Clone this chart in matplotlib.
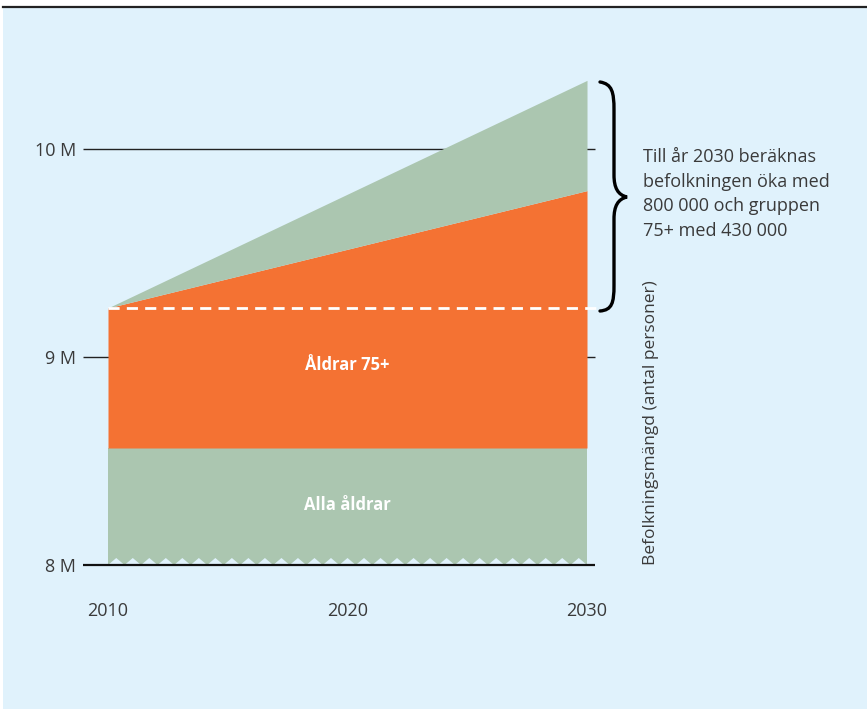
import matplotlib
matplotlib.use("Agg")
import matplotlib.pyplot as plt
from matplotlib.path import Path
from matplotlib.patches import PathPatch, Rectangle
import numpy as np

plt.rcParams['font.family'] = ['Open Sans', 'DejaVu Sans']

# population in millions
years = [2010, 2030]
all_ages = [8.5625, 8.5625]
aged_75 = [9.236, 9.80]
total = [9.236, 10.33]
y_ticks = [8, 9, 10]
y_labels = ['8 M', '9 M', '10 M']
x_ticks = [2010, 2020, 2030]

bg = '#E0F2FC'
green = '#ABC6B0'
orange = '#F47233'
txt = '#3a3a3a'

W, H = 867, 709
fig = plt.figure(figsize=(W / 100, H / 100), dpi=100)
fig.patch.set_facecolor('white')

def fx(px):
    return px / W

def fy(py):
    return 1 - py / H

# panel background and top rule
fig.patches.append(Rectangle((fx(3), 0), 1, fy(7), transform=fig.transFigure,
                             facecolor=bg, edgecolor='none', zorder=-5))
fig.add_artist(plt.Line2D([fx(3), 1], [fy(6.5), fy(6.5)], transform=fig.transFigure,
                          color='#222222', lw=1.6))

# axes from px 83..597 horizontally, 60..565 vertically
ppy = 479 / 20.0   # pixels per year
ppm = 208.0        # pixels per million
ax = fig.add_axes([fx(83), fy(565), fx(597 - 83), (565 - 60) / H])
ax.set_facecolor('none')
ax.set_xlim(2010 - 25 / ppy, 2030 + 10 / ppy)
ax.set_ylim(8, 10 + 89 / ppm)
for s in ax.spines.values():
    s.set_visible(False)

xmin = ax.get_xlim()[0]
xend = 2030 + 8 / ppy
ax.hlines([9, 10], xmin, xend, color='#222222', lw=1.0, zorder=1)

ax.fill_between(years, 8, all_ages, color=green, lw=0, zorder=2)
ax.fill_between(years, all_ages, aged_75, color=orange, lw=0, zorder=2)
ax.fill_between(years, aged_75, total, color=green, lw=0, zorder=2)

# saw-tooth cut along the bottom edge
n = 29
edges = np.linspace(years[0], years[1], n + 1)
h = 7 / ppm
for a, b in zip(edges[:-1], edges[1:]):
    ax.fill([a, (a + b) / 2, b], [8, 8 + h, 8], color=bg, lw=0, zorder=3)

ax.hlines(8, xmin, xend, color='#111111', lw=1.6, zorder=4, clip_on=False)

ax.plot([2010, 2030 + 10 / ppy], [aged_75[0], aged_75[0]], color='white', lw=2,
        dashes=(4, 2.6), zorder=4, clip_on=False)

ax.text(2020, 8.96, 'Åldrar 75+', color='white', fontsize=12, fontweight='bold',
        ha='center', va='center', zorder=5)
ax.text(2020, 8.29, 'Alla åldrar', color='white', fontsize=12, fontweight='bold',
        ha='center', va='center', zorder=5)

ax.set_yticks(y_ticks)
ax.set_yticklabels(y_labels)
ax.set_xticks(x_ticks)
ax.set_xticklabels([str(x) for x in x_ticks])
ax.tick_params(axis='y', length=0, pad=5, labelsize=13, labelcolor=txt)
ax.tick_params(axis='x', length=0, pad=27, labelsize=13, labelcolor=txt)

# curly brace beside the growth
pts = [(600, 82), (612, 84), (614, 92), (614, 110),
       (614, 175),
       (614, 188), (618, 195), (627, 197),
       (618, 199), (614, 206), (614, 219),
       (614, 285),
       (614, 303), (612, 310), (600, 311)]
codes = [Path.MOVETO, Path.CURVE4, Path.CURVE4, Path.CURVE4,
         Path.LINETO,
         Path.CURVE4, Path.CURVE4, Path.CURVE4,
         Path.CURVE4, Path.CURVE4, Path.CURVE4,
         Path.LINETO,
         Path.CURVE4, Path.CURVE4, Path.CURVE4]
brace = Path([(fx(x), fy(y)) for x, y in pts], codes)
fig.patches.append(PathPatch(brace, transform=fig.transFigure, facecolor='none',
                             edgecolor='black', lw=2.4, capstyle='round'))

fig.text(fx(643), fy(148), 'Till år 2030 beräknas\nbefolkningen öka med\n'
         '800 000 och gruppen\n75+ med 430 000', color=txt, fontsize=13,
         ha='left', va='top', linespacing=1.47)

fig.text(fx(651), fy(423), 'Befolkningsmängd (antal personer)', color=txt,
         fontsize=12.5, rotation=90, ha='center', va='center')

fig.savefig('out.png', dpi=100, facecolor=fig.get_facecolor())
